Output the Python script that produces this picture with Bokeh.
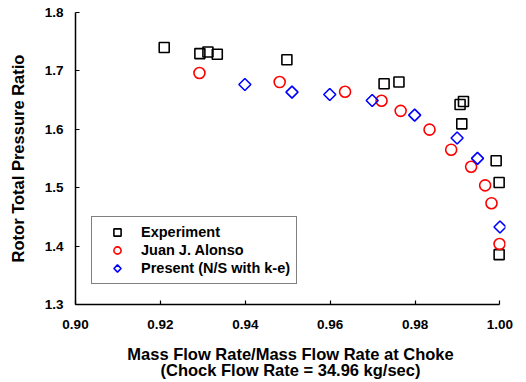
import math
from bokeh.plotting import figure
from bokeh.models import Range1d, Legend, LegendItem, FixedTicker
from bokeh.embed import file_html
from bokeh.resources import INLINE

# Experiment
exp_x = [0.9209, 0.9293, 0.9312, 0.9334, 0.9498, 0.9727, 0.9762, 0.9906, 0.9914, 0.9910, 0.9991, 0.9998, 0.9998]
exp_y = [1.740, 1.7296, 1.7324, 1.7284, 1.7192, 1.678, 1.681, 1.6424, 1.6476, 1.6093, 1.5462, 1.509, 1.3854]
# Juan J. Alonso
ja_x = [0.9292, 0.9481, 0.9635, 0.9721, 0.9766, 0.9834, 0.9885, 0.9932, 0.9965, 0.9980, 0.9999]
ja_y = [1.6964, 1.6809, 1.6643, 1.6488, 1.6316, 1.5995, 1.5651, 1.5359, 1.504, 1.4735, 1.4036]
# Present (N/S with k-e)
ps_x = [0.9399, 0.9510, 0.9599, 0.9699, 0.9799, 0.9899, 0.9947, 1.0000]
ps_y = [1.6768, 1.6637, 1.6596, 1.6493, 1.6242, 1.5852, 1.5503, 1.4328]

x_ticks = [0.90, 0.92, 0.94, 0.96, 0.98, 1.00]
y_ticks = [1.3, 1.4, 1.5, 1.6, 1.7, 1.8]

FONT = "Liberation Sans"

p = figure(width=526, height=382, output_backend="svg", toolbar_location=None,
           x_range=Range1d(0.9, 1.0013), y_range=Range1d(1.3, 1.8),
           min_border_left=75, min_border_right=21, min_border_top=12, min_border_bottom=78)
p.outline_line_color = None
p.grid.visible = False
p.background_fill_color = "white"
p.border_fill_color = "white"

r1 = p.scatter(exp_x, exp_y, marker="square", size=10, fill_color=None, line_color="black", line_width=1.6)
r2 = p.scatter(ja_x, ja_y, marker="circle", size=11, fill_color=None, line_color="#ff0000", line_width=1.6)
r3 = p.ngon(x=ps_x, y=ps_y, radius=6, radius_units="screen", n=4, fill_color=None,
            line_color="#0000ff", line_width=1.6)

for ax in (p.xaxis[0], p.yaxis[0]):
    ax.axis_line_width = 1.5
    ax.axis_line_color = "black"
    ax.major_tick_in = 4
    ax.major_tick_out = 0
    ax.major_tick_line_width = 1.2
    ax.minor_tick_line_color = None
    ax.major_label_text_font = FONT
    ax.major_label_text_font_style = "bold"
    ax.major_label_text_font_size = "13.5px"
    ax.major_label_text_color = "black"
    ax.axis_label_text_font = FONT
    ax.axis_label_text_font_style = "bold"
    ax.axis_label_text_font_size = "16.5px"
    ax.axis_label_text_color = "black"
    ax.axis_label_text_line_height = 0.92

p.xaxis[0].ticker = FixedTicker(ticks=x_ticks)
p.yaxis[0].ticker = FixedTicker(ticks=y_ticks)
p.xaxis[0].major_label_overrides = {v: f"{v:.2f}" for v in x_ticks}
p.yaxis[0].major_label_overrides = {v: f"{v:.1f}" for v in y_ticks}
p.xaxis[0].bounds = (0.9, 1.0)
p.yaxis[0].bounds = (1.3, 1.8)
p.xaxis[0].major_label_standoff = 15
p.yaxis[0].major_label_standoff = 12
p.xaxis[0].axis_label = "Mass Flow Rate/Mass Flow Rate at Choke\n(Chock Flow Rate = 34.96 kg/sec)"
p.yaxis[0].axis_label = "Rotor Total Pressure Ratio"
p.xaxis[0].axis_label_standoff = 13
p.yaxis[0].axis_label_standoff = 15

legend = Legend(items=[
    LegendItem(label="Experiment", renderers=[r1]),
    LegendItem(label="Juan J. Alonso", renderers=[r2]),
    LegendItem(label="Present (N/S with k-e)", renderers=[r3]),
], location=(16, 20))
legend.border_line_color = "black"
legend.border_line_width = 1
legend.background_fill_alpha = 1
legend.label_text_font = FONT
legend.label_text_font_style = "bold"
legend.label_text_font_size = "14.5px"
legend.label_text_color = "black"
legend.glyph_width = 38
legend.glyph_height = 18
legend.label_height = 18
legend.spacing = 0
legend.padding = 6
legend.margin = 0
legend.label_standoff = 5
p.add_layout(legend, "center")

open("out.html", "w").write(file_html(p, INLINE))
